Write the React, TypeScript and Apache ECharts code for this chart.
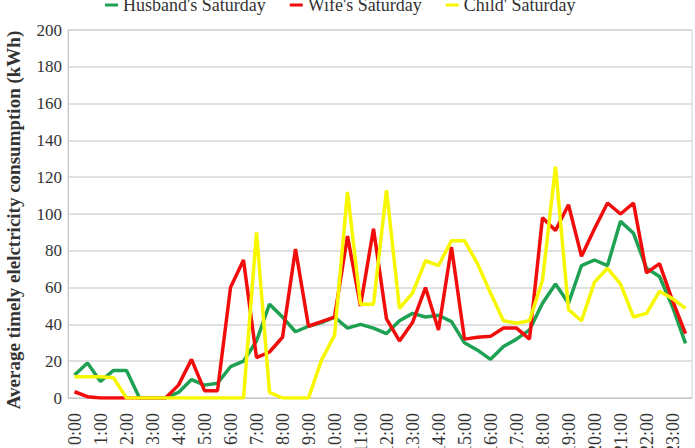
import React, { useEffect, useRef } from "react";
import * as echarts from "echarts";

const categories: string[] = [];
for (let h = 0; h < 24; h++) {
  categories.push(`${h}:00`);
  categories.push(`${h}:30`);
}

const seriesNames = ["Husband's Saturday", "Wife's Saturday", "Child' Saturday"];

const husband = [12.5, 19, 9, 15, 15, 0, 0, 0, 3, 10, 7, 8, 17, 20, 31, 51, 44, 36, 39, 41, 44, 38, 40, 38, 35, 42, 46, 44, 45, 41.5, 30, 26, 21, 28, 32, 37, 51.5, 62, 51.5, 72, 75, 72, 96, 89.5, 70.5, 66, 49.6, 29.7];
const wife = [3.4, 0.7, 0, 0, 0, 0, 0, 0, 7, 21, 4, 4, 60, 75, 22, 25, 33, 81, 39, 41.5, 44, 88, 50, 92, 43, 31, 41, 60, 37, 82, 32, 33, 33.5, 38, 38, 32, 98, 91, 105, 77, 92, 106, 100, 106, 68, 73, 53, 35];
const child = [11.5, 11.5, 11.5, 11, 0, 0, 0, 0, 0, 0, 0, 0, 0, 0, 90, 3, 0, 0, 0, 20.6, 34, 112, 51, 51, 113, 48.7, 57, 74.6, 72, 85.5, 85.5, 73, 57, 42, 40.6, 42, 64, 125.7, 48, 42, 63, 70.5, 62, 44, 46, 58, 54, 48.7];

const colors = ["#1ea152", "#f20d0d", "#f7f700"];
const yTitle = "Average timely elelctricity consumption (kWh)";
const serif = "Liberation Serif, Times New Roman, serif";

export default function App() {
  const ref = useRef<HTMLDivElement>(null);
  useEffect(() => {
    if (!ref.current) return;
    const chart = echarts.init(ref.current, undefined, { renderer: "svg" });
    const data = [husband, wife, child];
    chart.setOption({
      animation: false,
      backgroundColor: "#ffffff",
      color: colors,
      textStyle: { fontFamily: serif },
      legend: {
        top: -4,
        left: 105,
        padding: 0,
        itemGap: 24,
        itemWidth: 13,
        itemHeight: 3,
        icon: "rect",
        textStyle: { fontFamily: serif, fontSize: 18, color: "#333" },
        data: seriesNames,
      },
      grid: {
        left: 68,
        right: 3,
        top: 30,
        bottom: 50,
        outerBoundsMode: "none",
        containLabel: false,
        show: true,
        borderColor: "#d0d0d0",
        borderWidth: 1,
      },
      graphic: [
        {
          type: "text",
          x: 13,
          y: 220,
          rotation: Math.PI / 2,
          style: {
            text: yTitle,
            fontFamily: serif,
            fontSize: 19,
            fontWeight: "bold",
            fill: "#333",
            textAlign: "center",
            textVerticalAlign: "middle",
          },
        },
      ],
      xAxis: {
        type: "category",
        data: categories,
        boundaryGap: true,
        axisLine: { lineStyle: { color: "#c8c8c8", width: 1 } },
        axisTick: { show: false },
        axisLabel: {
          interval: 1,
          rotate: 90,
          margin: 15,
          fontFamily: serif,
          fontSize: 18,
          color: "#333",
        },
      },
      yAxis: {
        type: "value",
        min: 0,
        max: 200,
        interval: 20,
        axisLine: { show: true, lineStyle: { color: "#c8c8c8", width: 1 } },
        axisTick: { show: false },
        axisLabel: { margin: 6, fontFamily: serif, fontSize: 17, color: "#333" },
        splitLine: { lineStyle: { color: "#d6d6d6", width: 1.5 } },
      },
      series: seriesNames.map((name, i) => ({
        name,
        type: "line",
        data: data[i],
        symbol: "none",
        lineStyle: { width: 3.5, color: colors[i] },
        itemStyle: { color: colors[i] },
      })),
    });
    return () => chart.dispose();
  }, []);
  return <div ref={ref} style={{ width: 695, height: 448, position: "absolute", left: 0, top: 0 }} />;
}
